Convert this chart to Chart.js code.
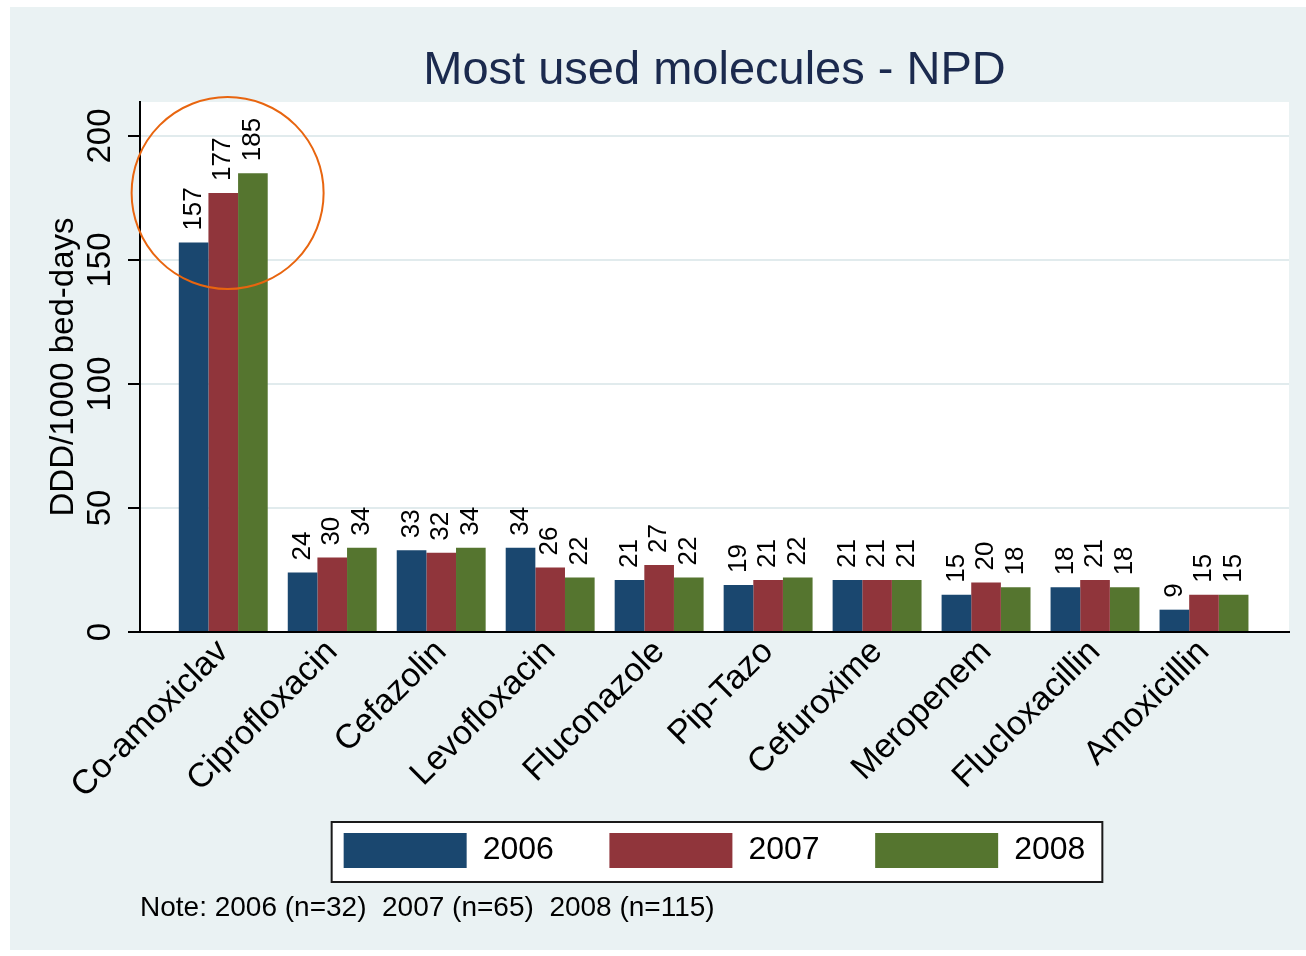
<!DOCTYPE html>
<html>
<head>
<meta charset="utf-8">
<script src="https://cdn.jsdelivr.net/npm/chart.js@4.4.1/dist/chart.umd.min.js"></script>
<style>
  html, body { margin: 0; padding: 0; background: #fff; }
  #wrap { position: absolute; left: 10px; top: 7px; width: 1296px; height: 943px; }
</style>
</head>
<body>
<div id="wrap"><canvas id="myChart" width="1296" height="943"></canvas></div>
<script>
const molecules = ['Co-amoxiclav', 'Ciprofloxacin', 'Cefazolin', 'Levofloxacin', 'Fluconazole',
  'Pip-Tazo', 'Cefuroxime', 'Meropenem', 'Flucloxacillin', 'Amoxicillin'];
const years = ['2006', '2007', '2008'];
const ddd2006 = [157, 24, 33, 34, 21, 19, 21, 15, 18, 9];
const ddd2007 = [177, 30, 32, 26, 27, 21, 21, 20, 21, 15];
const ddd2008 = [185, 34, 34, 22, 22, 22, 21, 18, 18, 15];
const yTicks = [0, 50, 100, 150, 200];
const noteText = 'Note: 2006 (n=32)  2007 (n=65)  2008 (n=115)';

const yearColors = ['#1a476f', '#90353b', '#55752f'];
const FONT = "'Liberation Sans', Arial, sans-serif";
const LEGEND_PAD = '    '; // extra room after each legend text (not the last)

// circled group (data units), radius in px
const highlight = { x: 0.04, y: 177, radius: 96 };

Chart.defaults.color = '#000';
Chart.defaults.font.family = FONT;

const series = [ddd2006, ddd2007, ddd2008];

// page background, white plot region, framed legend
const backdrop = {
  id: 'backdrop',
  beforeDraw(chart) {
    const { ctx, chartArea: a, width, height } = chart;
    ctx.save();
    ctx.fillStyle = '#eaf2f3';
    ctx.fillRect(0, 0, width, height);
    ctx.fillStyle = '#ffffff';
    ctx.fillRect(a.left, a.top, a.right - a.left, a.bottom - a.top);
    const boxes = chart.legend && chart.legend.legendHitBoxes;
    if (boxes && boxes.length) {
      const first = boxes[0], last = boxes[boxes.length - 1];
      const l = first.left - 12, r = last.left + last.width + 17;
      const t = first.top - 11, b = first.top + first.height + 14;
      ctx.fillRect(l, t, r - l, b - t);
      ctx.strokeStyle = '#1a1a1a';
      ctx.lineWidth = 2;
      ctx.strokeRect(l, t, r - l, b - t);
    }
    ctx.restore();
  }
};

// vertical value labels above bars
const barValues = {
  id: 'barValues',
  afterDatasetsDraw(chart) {
    const ctx = chart.ctx;
    ctx.save();
    ctx.font = '26px ' + FONT;
    ctx.fillStyle = '#000';
    ctx.textAlign = 'left';
    ctx.textBaseline = 'middle';
    chart.data.datasets.forEach((ds, i) => {
      chart.getDatasetMeta(i).data.forEach((bar, j) => {
        ctx.save();
        ctx.translate(bar.x, bar.y - 12);
        ctx.rotate(-Math.PI / 2);
        ctx.fillText(String(ds.data[j].y), 0, 0);
        ctx.restore();
      });
    });
    ctx.restore();
  }
};

const circle = {
  id: 'circle',
  afterDraw(chart) {
    const { ctx, scales: { x, y } } = chart;
    ctx.save();
    ctx.strokeStyle = '#e8650f';
    ctx.lineWidth = 2;
    ctx.beginPath();
    ctx.arc(x.getPixelForValue(highlight.x), y.getPixelForValue(highlight.y), highlight.radius, 0, Math.PI * 2);
    ctx.stroke();
    ctx.restore();
  }
};

new Chart(document.getElementById('myChart'), {
  type: 'bar',
  data: {
    datasets: years.map((yr, k) => ({
      label: yr,
      data: series[k].map((v, i) => ({ x: i, y: v })),
      backgroundColor: yearColors[k],
      borderWidth: 0,
      categoryPercentage: 0.816,
      barPercentage: 1
    }))
  },
  options: {
    responsive: false,
    animation: false,
    layout: { padding: { left: 0, right: 17, top: 0, bottom: 0 } },
    scales: {
      x: {
        type: 'linear',
        offset: false,
        min: -0.764,
        max: 9.78,
        afterBuildTicks: (s) => { s.ticks = molecules.map((m, i) => ({ value: i })); },
        afterFit: (s) => { s.height = 181; },
        grid: { display: false, offset: false },
        border: { display: true, color: '#000', width: 2 },
        ticks: {
          autoSkip: false,
          minRotation: 45,
          maxRotation: 45,
          padding: -8,
          color: '#000',
          font: { family: FONT, size: 34 },
          callback: (v) => molecules[v]
        }
      },
      y: {
        min: 0,
        max: 213.7,
        afterBuildTicks: (s) => { s.ticks = yTicks.map(v => ({ value: v })); },
        afterFit: (s) => { s.width = 130; },
        grid: {
          color: (c) => (c.tick && c.tick.value === 0) ? 'rgba(0,0,0,0)' : '#e1ebed',
          lineWidth: 2,
          tickLength: 12,
          tickColor: '#000',
          tickWidth: 2
        },
        border: { display: true, color: '#000', width: 2 },
        ticks: {
          minRotation: 90,
          maxRotation: 90,
          crossAlign: 'center',
          padding: 0,
          color: '#000',
          font: { family: FONT, size: 33 }
        },
        title: {
          display: true,
          text: 'DDD/1000 bed-days',
          color: '#000',
          font: { family: FONT, size: 33 },
          padding: { top: 34.2, bottom: 0 }
        }
      }
    },
    plugins: {
      tooltip: { enabled: false },
      title: {
        display: true,
        text: 'Most used molecules - NPD',
        color: '#1b2a4e',
        fullSize: false,
        font: { family: FONT, size: 47, weight: 'normal' },
        padding: { top: 35.8, bottom: 2.8 }
      },
      subtitle: {
        display: true,
        text: noteText,
        position: 'bottom',
        align: 'start',
        fullSize: false,
        color: '#000',
        font: { family: FONT, size: 28 },
        padding: { top: 13.2, bottom: 25.2 }
      },
      legend: {
        position: 'bottom',
        fullSize: false,
        labels: {
          boxWidth: 123,
          boxHeight: 35,
          padding: 20,
          color: '#000',
          font: { family: FONT, size: 32 },
          generateLabels: (chart) => {
            const items = Chart.defaults.plugins.legend.labels.generateLabels(chart);
            return items.map((item, i) => Object.assign(item, {
              text: i < items.length - 1 ? item.text + LEGEND_PAD : item.text
            }));
          }
        }
      }
    }
  },
  plugins: [backdrop, barValues, circle]
});
</script>
</body>
</html>
